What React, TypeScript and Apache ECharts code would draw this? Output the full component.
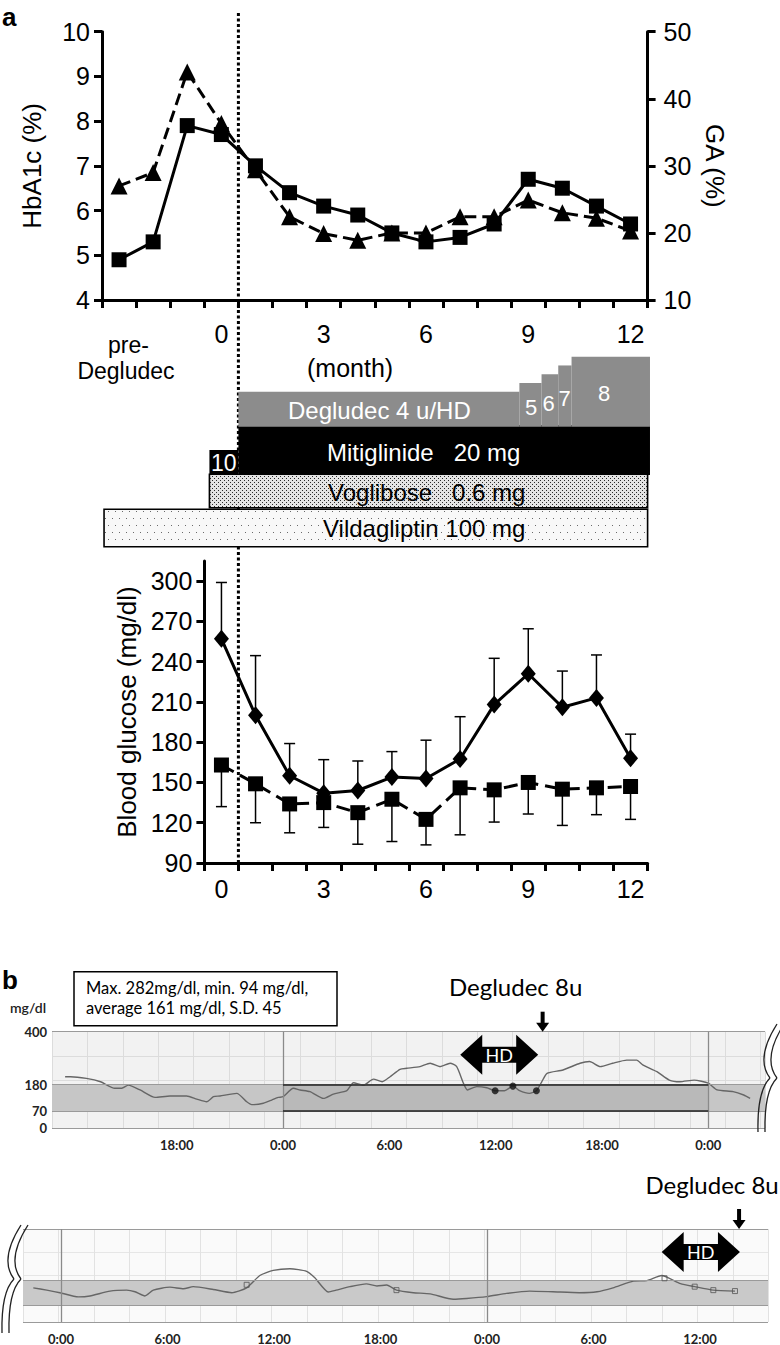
import React, { useEffect, useRef } from "react";
import * as echarts from "echarts";

// ---------- Panel a (top): HbA1c / GA ----------
const topMonths = [-3, -2, -1, 0, 1, 2, 3, 4, 5, 6, 7, 8, 9, 10, 11, 12];
const hba1c = [4.9, 5.3, 7.9, 7.7, 7.0, 6.4, 6.1, 5.9, 5.5, 5.3, 5.4, 5.7, 6.7, 6.5, 6.1, 5.7];
const gaValues = [27, 29, 44, 36.3, 29.4, 22.4, 19.9, 18.9, 20, 20, 22.4, 22.4, 24.9, 23, 22.2, 20.3];
const topMonthLabels = [0, 3, 6, 9, 12];

// ---------- Drug timeline ----------
const vildagliptin = [[-3.44, 12.5]];
const voglibose = [[-0.35, 12.5]];
const mitiglinide = [
  [-0.35, 0.5, 10],
  [0.5, 12.57, 20],
];
const degludec = [
  [0.5, 8.74, 4],
  [8.74, 9.39, 5],
  [9.39, 9.88, 6],
  [9.88, 10.27, 7],
  [10.27, 12.57, 8],
];

// ---------- Panel a (bottom): blood glucose ----------
const bgMonths = [0, 1, 2, 3, 4, 5, 6, 7, 8, 9, 10, 11, 12];
const bgDiamond = [257, 200, 155, 142, 144, 154, 153, 167.5, 208, 231, 206, 213, 168];
const bgDiamondSD = [42, 44.5, 24, 25, 22, 19, 28.5, 31.5, 34.5, 33.5, 27, 32, 18];
const bgSquare = [163, 149, 134, 135, 127.5, 137.5, 122.5, 146, 144.5, 150, 145, 146, 147];
const bgSquareSD = [31, 29, 21.5, 18.5, 23.5, 31.5, 19, 35, 24, 23.5, 27, 20, 24.5];
const bgTickLabels = [90, 120, 150, 180, 210, 240, 270, 300];

// ---------- Panel b: CGM ----------
const cgm1 = [
  [-12.3, 213], [-12.0, 213], [-11.1, 206], [-10.3, 192], [-9.5, 165], [-9.1, 165], [-8.73, 178],
  [-8.07, 158], [-7.22, 127], [-6.38, 133], [-5.44, 133], [-4.87, 120], [-4.31, 109], [-3.93, 130],
  [-3.56, 133], [-2.61, 144], [-2.05, 109], [-1.77, 97], [-1.11, 103], [-0.64, 116], [-0.27, 127],
  [0, 130], [0.58, 165], [0.96, 158], [1.52, 151], [2.28, 123], [2.84, 141], [3.6, 155], [3.97, 188],
  [4.54, 178], [5.1, 203], [5.6, 192], [6.04, 213], [6.6, 244], [6.98, 248], [7.73, 255], [8.3, 269],
  [8.86, 255], [9.43, 269], [9.8, 255], [10.18, 186], [10.4, 158], [10.93, 172], [11.5, 167],
  [11.97, 155], [12.5, 155], [12.97, 174], [13.35, 155], [13.9, 144], [14.3, 155], [14.6, 192],
  [14.9, 227], [15.8, 241], [16.76, 269], [17.3, 276], [17.9, 255], [18.6, 269], [19.4, 282],
  [19.96, 282], [20.3, 262], [21.1, 234], [21.8, 199], [22.4, 192], [23.2, 199], [24.0, 186],
  [24.5, 158], [25.4, 151], [26.0, 137], [26.36, 123],
];
const cgm1Meter = [[11.97, 155], [12.97, 174], [14.3, 155]];
const cgm2 = [
  [-1.56, 147], [-0.8, 137], [-0.06, 126], [0.98, 108], [1.63, 112], [2.76, 133], [3.7, 137],
  [4.17, 130], [4.73, 112], [5.2, 137], [6.14, 150], [6.9, 143], [7.45, 152], [8.58, 140], [9.62, 126],
  [10.46, 147], [11.2, 200], [11.96, 222], [12.9, 229], [13.84, 218], [14.3, 190], [15.06, 129],
  [15.5, 137], [16.28, 152], [17.2, 164], [17.8, 155], [18.35, 159], [18.9, 137], [19.85, 126],
  [20.8, 121], [22.1, 98], [22.85, 101], [23.98, 109], [25.1, 123], [26.4, 133], [27.7, 130],
  [29.2, 126], [30.2, 130], [31.1, 147], [32.25, 176], [33.0, 178], [33.84, 200], [34.9, 165],
  [35.7, 152], [36.75, 137], [37.97, 133],
];
const cgm2Meter = [[10.46, 160], [18.9, 137], [34.0, 188], [35.7, 152], [36.75, 137], [37.97, 133]];
const cgm1TimeLabels = [-6, 0, 6, 12, 18, 24];
const cgm2TimeLabels = [0, 6, 12, 18, 24, 30, 36];
const cgmYLabels = [0, 70, 180, 400];
const hdSession1 = { start: 10.0, end: 14.4, insulin: 14.65 };
const hdSession2 = { start: 33.84, end: 38.25, insulin: 38.2 };

const AR = "'Liberation Sans', Arial, Helvetica, sans-serif";
const LATO = "Lato, 'Open Sans', sans-serif";

function dotPattern(w: number, h: number, dots: number[][], bg: string, fg: string) {
  const c = document.createElement("canvas");
  c.width = w;
  c.height = h;
  const ctx = c.getContext("2d")!;
  ctx.fillStyle = bg;
  ctx.fillRect(0, 0, w, h);
  ctx.fillStyle = fg;
  dots.forEach(([x, y]) => ctx.fillRect(x, y, 1, 1));
  return { image: c.toDataURL(), repeat: "repeat", imageWidth: w, imageHeight: h };
}

function drugRenderer(base: number, pxPerDose: number, fixedH: number, fill: any, stroke: string | null) {
  return (_params: any, api: any) => {
    const s = api.value(0);
    const e = api.value(1);
    const dose = api.value(2);
    const h = pxPerDose > 0 ? dose * pxPerDose : fixedH;
    const p0 = api.coord([s, base]);
    const p1 = api.coord([e, base + h]);
    return {
      type: "rect",
      shape: { x: p0[0], y: p1[1], width: p1[0] - p0[0], height: p0[1] - p1[1] },
      style: { fill, stroke: stroke || "none", lineWidth: stroke ? 1.6 : 0 },
    };
  };
}

function errRenderer(_params: any, api: any) {
  const x = api.value(0);
  const m = api.value(1);
  const e = api.value(2);
  const p0 = api.coord([x, m]);
  const p1 = api.coord([x, e]);
  return {
    type: "group",
    children: [
      { type: "line", shape: { x1: p0[0], y1: p0[1], x2: p1[0], y2: p1[1] }, style: { stroke: "#000", lineWidth: 1.5 } },
      { type: "line", shape: { x1: p1[0] - 5.5, y1: p1[1], x2: p1[0] + 5.5, y2: p1[1] }, style: { stroke: "#000", lineWidth: 1.5 } },
    ],
  };
}

const blackAxisLine = { show: true, onZero: false, lineStyle: { color: "#000", width: 3 } };
const blackTick = (vals?: number[]) => ({
  show: true,
  length: 8,
  lineStyle: { color: "#000", width: 3 },
  ...(vals ? { customValues: vals } : {}),
});

function hourLabel(v: number) {
  const h = ((Math.round(v) % 24) + 24) % 24;
  return `${h}:00`;
}

function buildOption() {
  const topTicks = Array.from({ length: 17 }, (_, i) => -3.5 + i);
  const bgTicks = Array.from({ length: 14 }, (_, i) => -0.5 + i);
  const voglFill = dotPattern(4, 4, [[0, 0], [2, 2]], "#e4e4e4", "#2a2a2a");
  const vildFill = dotPattern(7, 14, [[0, 0], [3, 7]], "#f8f8f8", "#6a6a6a");

  const gray = "#9a9a9a";
  return {
    animation: false,
    backgroundColor: "#ffffff",
    grid: [
      { left: 102, top: 31.7, width: 545.6, height: 268.3 },
      { left: 102, top: 340, width: 545.6, height: 207 },
      { left: 204.4, top: 561, width: 443.2, height: 302 },
      { left: 52, top: 1031.7, width: 713, height: 96.3, show: true, backgroundColor: "#f2f2f2", borderWidth: 0 },
      { left: 23, top: 1229, width: 745, height: 94, show: true, backgroundColor: "#fafafa", borderWidth: 0 },
    ],
    xAxis: [
      {
        type: "value", gridIndex: 0, min: -3.5, max: 12.5,
        axisLine: blackAxisLine, axisTick: blackTick(topTicks),
        axisLabel: { customValues: topMonthLabels, fontSize: 25, color: "#000", fontFamily: AR, margin: 21 },
        splitLine: { show: false },
      },
      {
        type: "value", gridIndex: 1, min: -3.5, max: 12.5, show: false,
        axisLine: { show: false }, axisTick: { show: false }, axisLabel: { show: false }, splitLine: { show: false },
      },
      {
        type: "value", gridIndex: 2, min: -0.5, max: 12.5,
        axisLine: blackAxisLine, axisTick: blackTick(bgTicks),
        axisLabel: { customValues: topMonthLabels, fontSize: 25, color: "#000", fontFamily: AR, margin: 13 },
        splitLine: { show: false },
      },
      {
        type: "value", gridIndex: 3, min: -13.04, max: 27.2, interval: 2,
        axisLine: { show: false }, axisTick: { show: false },
        axisLabel: {
          customValues: cgm1TimeLabels, formatter: hourLabel, fontSize: 13, fontWeight: "bold",
          color: "#222", fontFamily: LATO, margin: 10,
        },
        splitLine: { show: true, lineStyle: { color: "#dcdcdc", width: 1 } },
      },
      {
        type: "value", gridIndex: 4, min: -2.14, max: 39.83, interval: 2,
        axisLine: { show: false }, axisTick: { show: false },
        axisLabel: {
          customValues: cgm2TimeLabels, formatter: hourLabel, fontSize: 13, fontWeight: "bold",
          color: "#222", fontFamily: LATO, margin: 10,
        },
        splitLine: { show: true, lineStyle: { color: "#e2e2e2", width: 1 } },
      },
    ],
    yAxis: [
      {
        type: "value", gridIndex: 0, min: 4, max: 10, interval: 1,
        axisLine: blackAxisLine, axisTick: blackTick(),
        axisLabel: { fontSize: 25, color: "#000", fontFamily: AR, margin: 12 },
        splitLine: { show: false },
        name: "HbA1c (%)", nameLocation: "middle", nameRotate: 90, nameGap: 57,
        nameTextStyle: { fontSize: 26, color: "#000", fontFamily: AR },
      },
      {
        type: "value", gridIndex: 0, position: "right", min: 10, max: 50, interval: 10,
        axisLine: blackAxisLine, axisTick: blackTick(),
        axisLabel: { fontSize: 25, color: "#000", fontFamily: AR, margin: 16 },
        splitLine: { show: false },
        name: "GA (%)", nameLocation: "middle", nameRotate: -90, nameGap: 50,
        nameTextStyle: { fontSize: 26, color: "#000", fontFamily: AR },
      },
      {
        type: "value", gridIndex: 1, min: 0, max: 207, show: false,
        axisLine: { show: false }, axisTick: { show: false }, axisLabel: { show: false }, splitLine: { show: false },
      },
      {
        type: "value", gridIndex: 2, min: 90, max: 315, interval: 30,
        axisLine: blackAxisLine, axisTick: blackTick(bgTickLabels),
        axisLabel: { customValues: bgTickLabels, fontSize: 25, color: "#000", fontFamily: AR, margin: 12 },
        splitLine: { show: false },
        name: "Blood glucose (mg/dl)", nameLocation: "middle", nameRotate: 90, nameGap: 60,
        nameTextStyle: { fontSize: 26, color: "#000", fontFamily: AR },
      },
      {
        type: "value", gridIndex: 3, min: 0, max: 400, interval: 100,
        axisLine: { show: false }, axisTick: { show: false },
        axisLabel: { customValues: cgmYLabels, fontSize: 13, fontWeight: "bold", color: "#222", fontFamily: LATO, margin: 5 },
        splitLine: { show: true, lineStyle: { color: "#dcdcdc", width: 1 } },
      },
      {
        type: "value", gridIndex: 4, min: 0, max: 400, interval: 100,
        axisLine: { show: false }, axisTick: { show: false }, axisLabel: { show: false },
        splitLine: { show: true, lineStyle: { color: "#e6e6e6", width: 1 } },
      },
    ],
    series: [
      // top chart
      {
        type: "line", xAxisIndex: 0, yAxisIndex: 1, z: 3,
        data: topMonths.map((m, i) => [m, gaValues[i]]),
        symbol: "triangle", symbolSize: 17, showAllSymbol: true,
        itemStyle: { color: "#000" },
        lineStyle: { color: "#000", width: 3, type: [12, 6] },
      },
      {
        type: "line", xAxisIndex: 0, yAxisIndex: 0, z: 4,
        data: topMonths.map((m, i) => [m, hba1c[i]]),
        symbol: "rect", symbolSize: 15, showAllSymbol: true,
        itemStyle: { color: "#000" },
        lineStyle: { color: "#000", width: 3 },
      },
      // drug timeline
      {
        type: "custom", xAxisIndex: 1, yAxisIndex: 2, z: 3,
        renderItem: drugRenderer(0.3, 0, 37.4, vildFill, "#000"),
        data: vildagliptin.map((d) => [d[0], d[1], 0]),
      },
      {
        type: "custom", xAxisIndex: 1, yAxisIndex: 2, z: 3,
        renderItem: drugRenderer(39.3, 0, 33.4, voglFill, "#000"),
        data: voglibose.map((d) => [d[0], d[1], 0]),
      },
      {
        type: "custom", xAxisIndex: 1, yAxisIndex: 2, z: 3,
        renderItem: drugRenderer(72, 2.5, 0, "#000", null),
        data: mitiglinide,
      },
      {
        type: "custom", xAxisIndex: 1, yAxisIndex: 2, z: 3,
        renderItem: drugRenderer(120.3, 8.75, 0, "#8c8c8c", null),
        data: degludec,
      },
      // blood glucose
      {
        type: "custom", xAxisIndex: 2, yAxisIndex: 3, z: 2,
        renderItem: errRenderer,
        data: bgMonths.map((m, i) => [m, bgDiamond[i], bgDiamond[i] + bgDiamondSD[i]]),
      },
      {
        type: "custom", xAxisIndex: 2, yAxisIndex: 3, z: 2,
        renderItem: errRenderer,
        data: bgMonths.map((m, i) => [m, bgSquare[i], bgSquare[i] - bgSquareSD[i]]),
      },
      {
        type: "line", xAxisIndex: 2, yAxisIndex: 3, z: 4,
        data: bgMonths.map((m, i) => [m, bgDiamond[i]]),
        symbol: "diamond", symbolSize: [15, 18], showAllSymbol: true,
        itemStyle: { color: "#000" },
        lineStyle: { color: "#000", width: 3 },
      },
      {
        type: "line", xAxisIndex: 2, yAxisIndex: 3, z: 4,
        data: bgMonths.map((m, i) => [m, bgSquare[i]]),
        symbol: "rect", symbolSize: 15, showAllSymbol: true,
        itemStyle: { color: "#000" },
        lineStyle: { color: "#000", width: 3, type: [14, 7] },
      },
      // CGM 1
      {
        type: "line", xAxisIndex: 3, yAxisIndex: 4, z: 4,
        data: cgm1, showSymbol: false, smooth: 0.2,
        lineStyle: { color: "#666", width: 1.4 },
        markArea: {
          silent: true,
          data: [
            [{ xAxis: -13.04, yAxis: 70, itemStyle: { color: "#c6c6c6" } }, { xAxis: 0, yAxis: 180 }],
            [{ xAxis: 0, yAxis: 70, itemStyle: { color: "#b9b9b9" } }, { xAxis: 24, yAxis: 180 }],
            [{ xAxis: 24, yAxis: 70, itemStyle: { color: "#c6c6c6" } }, { xAxis: 27.2, yAxis: 180 }],
          ],
        },
        markLine: {
          silent: true, symbol: "none", label: { show: false },
          lineStyle: { color: gray, width: 1.2, type: "solid" },
          data: [
            { yAxis: 400 }, { yAxis: 0 }, { yAxis: 180 }, { yAxis: 70 },
            { xAxis: 0, lineStyle: { color: "#8a8a8a", width: 1.3, type: "solid" } },
            { xAxis: 24, lineStyle: { color: "#8a8a8a", width: 1.3, type: "solid" } },
            [{ coord: [0, 180], lineStyle: { color: "#222", width: 1.6, type: "solid" } }, { coord: [24, 180] }],
            [{ coord: [0, 70], lineStyle: { color: "#222", width: 1.6, type: "solid" } }, { coord: [24, 70] }],
          ],
        },
      },
      {
        type: "scatter", xAxisIndex: 3, yAxisIndex: 4, z: 5,
        data: cgm1Meter, symbol: "circle", symbolSize: 7,
        itemStyle: { color: "#111" },
      },
      // CGM 2
      {
        type: "line", xAxisIndex: 4, yAxisIndex: 5, z: 4,
        data: cgm2, showSymbol: false, smooth: 0.2,
        lineStyle: { color: "#666", width: 1.4 },
        markArea: {
          silent: true,
          data: [[{ xAxis: -2.14, yAxis: 70, itemStyle: { color: "#c9c9c9" } }, { xAxis: 39.83, yAxis: 180 }]],
        },
        markLine: {
          silent: true, symbol: "none", label: { show: false },
          lineStyle: { color: gray, width: 1.2, type: "solid" },
          data: [
            { yAxis: 400 }, { yAxis: 0 }, { yAxis: 180 }, { yAxis: 70 },
            { xAxis: 0, lineStyle: { color: "#8a8a8a", width: 1.3, type: "solid" } },
            { xAxis: 24, lineStyle: { color: "#8a8a8a", width: 1.3, type: "solid" } },
          ],
        },
      },
      {
        type: "scatter", xAxisIndex: 4, yAxisIndex: 5, z: 5,
        data: cgm2Meter, symbol: "rect", symbolSize: 5,
        itemStyle: { color: "rgba(0,0,0,0)", borderColor: "#555", borderWidth: 1 },
      },
    ],
  };
}

function breakSymbol(x0: number, yTop: number, yBot: number) {
  const H = yBot - yTop;
  const els: any[] = [];
  [0, 7].forEach((dx) => {
    const x = x0 + dx;
    els.push({
      type: "bezierCurve", z: 20,
      shape: { x1: x + 19, y1: yTop, cpx1: x - 3, cpy1: yTop + 0.32 * H, x2: x + 12, y2: yTop + 0.5 * H },
      style: { stroke: "#222", lineWidth: 1.3, fill: "none" },
    });
    els.push({
      type: "bezierCurve", z: 20,
      shape: { x1: x + 12, y1: yTop + 0.5 * H, cpx1: x - 1, cpy1: yTop + 0.62 * H, x2: x, y2: yBot },
      style: { stroke: "#222", lineWidth: 1.3, fill: "none" },
    });
  });
  return els;
}

function hdArrow(x1: number, x2: number, cy: number) {
  const H = 20, h = 8, L = 22;
  return [
    {
      type: "polygon", z: 20,
      shape: {
        points: [
          [x1, cy], [x1 + L, cy - H], [x1 + L, cy - h], [x2 - L, cy - h], [x2 - L, cy - H],
          [x2, cy], [x2 - L, cy + H], [x2 - L, cy + h], [x1 + L, cy + h], [x1 + L, cy + H],
        ],
      },
      style: { fill: "#000" },
    },
    {
      type: "text", z: 21, x: (x1 + x2) / 2, y: cy,
      style: { text: "HD", fill: "#fff", font: `18px ${LATO}`, align: "center", verticalAlign: "middle" },
    },
  ];
}

function downArrow(x: number, yTop: number, yTip: number) {
  return [
    { type: "rect", z: 20, shape: { x: x - 2, y: yTop, width: 4, height: yTip - yTop - 8 }, style: { fill: "#000" } },
    { type: "polygon", z: 20, shape: { points: [[x - 6.5, yTip - 9], [x + 6.5, yTip - 9], [x, yTip]] }, style: { fill: "#000" } },
  ];
}

function txt(text: string, x: number, y: number, font: string, fill = "#000", align = "left") {
  return { type: "text", z: 30, x, y, style: { text, fill, font, align, verticalAlign: "middle" } };
}

function buildGraphics(chart: any) {
  const els: any[] = [];
  const lineX = chart.convertToPixel({ xAxisIndex: 0 }, 0.5);
  els.push({
    type: "line", z: 1,
    shape: { x1: lineX, y1: 13, x2: lineX, y2: 863 },
    style: { stroke: "#000", lineWidth: 3, lineDash: [3, 2.5] },
  });
  // panel labels
  els.push(txt("a", 2, 17, `bold 26px ${AR}`));
  els.push(txt("b", 2, 980, `bold 26px ${AR}`));
  // top chart extra axis text
  els.push(txt("pre-", 108, 345, `23px ${AR}`));
  els.push(txt("Degludec", 126, 371, `23px ${AR}`, "#000", "center"));
  els.push(txt("(month)", 307, 368, `25px ${AR}`));
  // drug texts
  els.push(txt("Degludec 4 u/HD", 288, 410, `24px ${AR}`, "#fff"));
  els.push(txt("5", 531, 407, `22px ${AR}`, "#fff", "center"));
  els.push(txt("6", 548.5, 403, `22px ${AR}`, "#fff", "center"));
  els.push(txt("7", 564.5, 398, `22px ${AR}`, "#fff", "center"));
  els.push(txt("8", 604, 393.5, `22px ${AR}`, "#fff", "center"));
  els.push(txt("Mitiglinide   20 mg", 327, 452, `24px ${AR}`, "#fff"));
  els.push(txt("10", 211, 463, `23px ${AR}`, "#fff"));
  els.push(txt("Voglibose   0.6 mg", 328, 492, `24px ${AR}`, "#000"));
  els.push(txt("Vildagliptin 100 mg", 323, 528, `24px ${AR}`, "#000"));

  // panel b
  els.push({
    type: "rect", z: 20,
    shape: { x: 74, y: 971.7, width: 263, height: 54 },
    style: { fill: "#fff", stroke: "#000", lineWidth: 1.5 },
  });
  els.push(txt("Max. 282mg/dl, min. 94 mg/dl,", 86, 988, `16.5px ${LATO}`));
  els.push(txt("average 161 mg/dl, S.D. 45", 86, 1008, `16.5px ${LATO}`));
  els.push(txt("mg/dl", 28, 1007, `600 14px ${LATO}`, "#222", "center"));

  const sessions = [
    { grid: 3, s: hdSession1 },
    { grid: 4, s: hdSession2 },
  ];
  sessions.forEach(({ grid, s }) => {
    const a = chart.convertToPixel({ gridIndex: grid }, [s.start, 400]);
    const b = chart.convertToPixel({ gridIndex: grid }, [s.end, 400]);
    const c = chart.convertToPixel({ gridIndex: grid }, [s.insulin, 400]);
    const top = a[1];
    els.push(...hdArrow(a[0], b[0], top + 23));
    els.push(...downArrow(c[0], top - 20, top));
    els.push(txt("Degludec 8u", c[0] - 27, top - 45, `24px ${LATO}`, "#000", "center"));
  });

  els.push(...breakSymbol(758, 1024, 1132));
  els.push(...breakSymbol(2, 1225, 1333));
  return els;
}

export default function App() {
  const ref = useRef<HTMLDivElement>(null);
  useEffect(() => {
    const chart = echarts.init(ref.current!, null, { renderer: "svg" });
    chart.setOption(buildOption() as any);
    chart.setOption({ graphic: buildGraphics(chart) } as any);
    return () => chart.dispose();
  }, []);
  return (
    <div
      ref={ref}
      style={{ position: "absolute", left: 0, top: 0, width: 780, height: 1345, background: "#fff" }}
    />
  );
}
